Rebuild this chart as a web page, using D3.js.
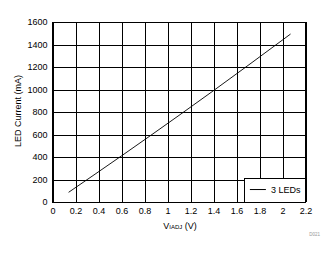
<!DOCTYPE html>
<html>
  <head>
    <meta charset="utf-8">
    <script src="https://d3js.org/d3.v7.min.js"></script>
    <style>
      body { margin: 0px; background: #fff; }
      .domain { display: none; }
      .tick line { stroke: #000; stroke-width: 1; shape-rendering: crispEdges; }
      .tick text { fill: #000; font-size: 9px; font-family: Arial, "Liberation Sans", sans-serif; }
      .lbl { fill: #000; font-size: 9px; font-family: Arial, "Liberation Sans", sans-serif; }
    </style>
  </head>
  <body>
    <svg width="335" height="254"></svg>
    <script>
      // values
      const vAdj = [0.14, 0.6, 1.1, 1.4, 2.07];
      const ledCurrent = [86, 410, 770, 990, 1493];
      const xTicks = [0, 0.2, 0.4, 0.6, 0.8, 1, 1.2, 1.4, 1.6, 1.8, 2, 2.2];
      const yTicks = [0, 200, 400, 600, 800, 1000, 1200, 1400, 1600];
      const seriesName = '3 LEDs';

      const margin = { left: 52.5, right: 29.5, top: 22, bottom: 52 };
      const svg = d3.select('svg');
      const width = +svg.attr('width');
      const height = +svg.attr('height');
      const innerWidth = width - margin.left - margin.right;
      const innerHeight = height - margin.top - margin.bottom;

      const g = svg.append('g')
          .attr('transform', `translate(${margin.left},${margin.top})`);

      const xScale = d3.scaleLinear().domain([0, 2.2]).range([0, innerWidth]);
      const yScale = d3.scaleLinear().domain([0, 1600]).range([innerHeight, 0]);

      const xAxis = d3.axisBottom(xScale)
        .tickValues(xTicks)
        .tickFormat(d3.format('~g'))
        .tickSize(-innerHeight)
        .tickPadding(6);
      const yAxis = d3.axisLeft(yScale)
        .tickValues(yTicks)
        .tickFormat(d3.format('d'))
        .tickSize(-innerWidth)
        .tickPadding(5);

      g.append('g').attr('transform', `translate(0,${innerHeight})`).call(xAxis);
      g.append('g').call(yAxis);

      g.append('rect')
        .attr('width', innerWidth)
        .attr('height', innerHeight)
        .attr('fill', 'none')
        .attr('stroke', '#000')
        .attr('shape-rendering', 'crispEdges');

      const line = d3.line()
        .x((d, i) => xScale(vAdj[i]))
        .y(d => yScale(d))
        .curve(d3.curveMonotoneX);

      g.append('path')
        .datum(ledCurrent)
        .attr('fill', 'none')
        .attr('stroke', '#000')
        .attr('stroke-width', 0.9)
        .attr('d', line);

      // legend
      const lg = g.append('g')
        .attr('transform', `translate(${xScale(1.673)},${yScale(213)})`);
      lg.append('rect')
        .attr('width', 61)
        .attr('height', 24)
        .attr('fill', '#fff')
        .attr('stroke', '#000')
        .attr('shape-rendering', 'crispEdges');
      lg.append('line')
        .attr('x1', 5).attr('x2', 21)
        .attr('y1', 11.5).attr('y2', 11.5)
        .attr('stroke', '#000');
      lg.append('text')
        .attr('class', 'lbl')
        .attr('x', 26)
        .attr('y', 15)
        .text(seriesName);

      // axis titles
      const xt = svg.append('text')
        .attr('class', 'lbl')
        .attr('x', margin.left + innerWidth / 2 + 1)
        .attr('y', 229)
        .attr('text-anchor', 'middle');
      xt.append('tspan').text('V');
      xt.append('tspan').attr('font-size', '6px').text('IADJ');
      xt.append('tspan').text(' (V)');

      svg.append('text')
        .attr('class', 'lbl')
        .attr('transform', `translate(21,${margin.top + innerHeight / 2 - 1}) rotate(-90)`)
        .attr('text-anchor', 'middle')
        .text('LED Current (mA)');

      svg.append('text')
        .attr('x', 320)
        .attr('y', 236)
        .attr('text-anchor', 'end')
        .attr('fill', '#999')
        .style('font-size', '4.5px')
        .style('font-family', 'Arial, sans-serif')
        .text('D021');
    </script>
  </body>
</html>
